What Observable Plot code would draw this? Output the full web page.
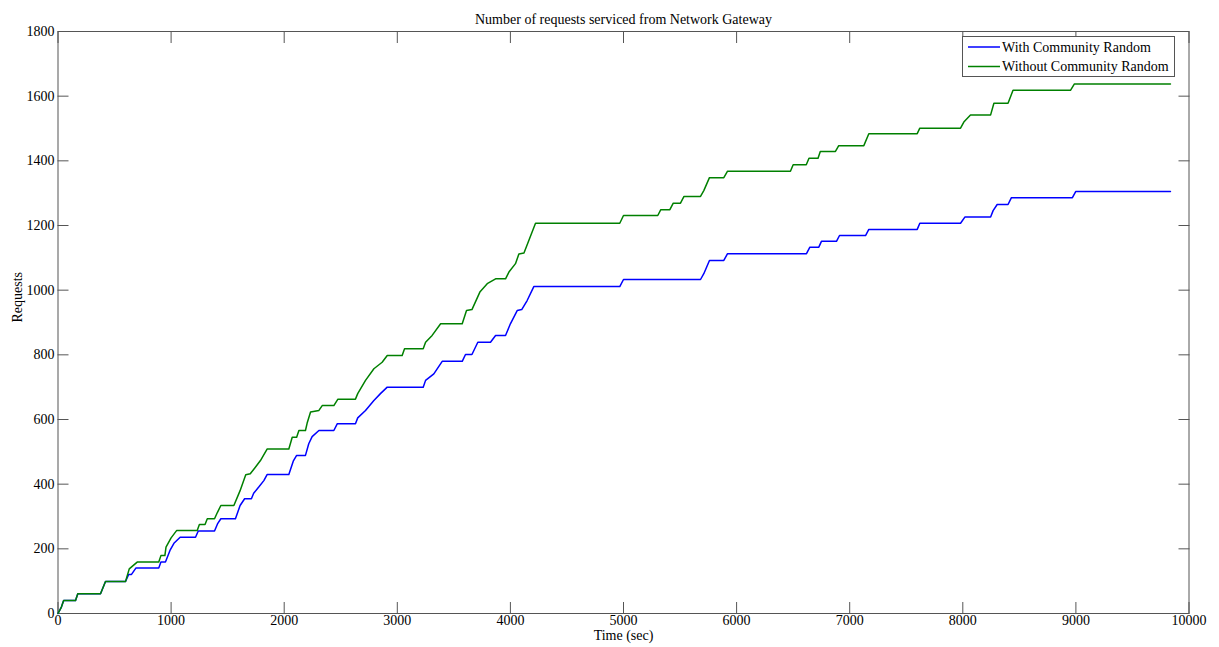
<!DOCTYPE html>
<html><head><meta charset="utf-8">
<script src="https://cdn.jsdelivr.net/npm/d3@7"></script>
<script src="https://cdn.jsdelivr.net/npm/@observablehq/plot@0.6"></script>
<style>body{margin:0;background:#fff}</style>
</head><body><div id="chart"></div>
<script>
const title = "Number of requests serviced from Network Gateway";
const xLabel = "Time (sec)";
const yLabel = "Requests";
const seriesNames = ["With Community Random", "Without Community Random"];
const seriesColors = ["#0000ff", "#008000"];
const xTicks = [0, 1000, 2000, 3000, 4000, 5000, 6000, 7000, 8000, 9000, 10000];
const yTicks = [0, 200, 400, 600, 800, 1000, 1200, 1400, 1600, 1800];

const withTime = [0,30,50,155,175,376,420,597,625,650,690,891,910,950,990,1025,1080,1216,1240,1384,1410,1440,1569,1610,1650,1710,1730,1775,1820,1850,2041,2080,2110,2188,2217,2247,2307,2439,2470,2630,2650,2719,2793,2851,2911,3229,3250,3323,3397,3574,3603,3660,3712,3824,3869,3957,4000,4060,4100,4148,4207,4967,5000,5681,5710,5760,5887,5920,6618,6648,6727,6750,6883,6910,7140,7169,7597,7620,7980,8018,8246,8268,8304,8400,8430,8969,8998,9836];
const withValue = [0,20,40,40,61,61,99,99,121,121,141,141,159,159,195,217,236,236,255,255,277,293,293,334,355,355,372,391,411,430,430,471,489,489,525,547,566,566,587,587,605,628,659,680,700,700,721,741,780,780,801,801,839,839,860,860,896,937,940,968,1011,1011,1033,1033,1051,1092,1092,1113,1113,1133,1133,1151,1151,1169,1169,1188,1188,1207,1207,1226,1226,1246,1265,1265,1286,1286,1305,1305];

const withoutTime = [0,30,50,155,175,376,420,597,630,700,891,910,945,955,1000,1050,1231,1250,1300,1320,1384,1410,1440,1555,1610,1660,1700,1740,1790,1850,2041,2071,2110,2130,2188,2203,2233,2307,2336,2439,2475,2630,2650,2719,2793,2866,2911,3043,3064,3229,3250,3308,3383,3574,3612,3660,3730,3795,3869,3957,3987,4045,4075,4120,4222,4967,5000,5303,5330,5410,5440,5504,5535,5681,5710,5760,5887,5920,6476,6500,6616,6640,6720,6740,6874,6903,7125,7169,7597,7620,7980,8009,8068,8246,8275,8400,8444,8952,8987,9836];
const withoutValue = [0,20,40,40,61,61,99,99,138,159,159,179,179,205,234,257,257,275,275,293,293,313,334,334,380,429,432,450,473,509,509,545,545,566,566,589,623,628,643,643,663,663,680,721,757,777,798,798,819,819,839,860,896,896,937,940,994,1020,1035,1035,1056,1082,1112,1115,1207,1207,1231,1231,1249,1249,1269,1269,1290,1290,1308,1348,1348,1368,1368,1388,1388,1408,1408,1429,1429,1447,1447,1484,1484,1501,1501,1520,1542,1542,1578,1578,1618,1618,1638,1638];

const rowsWith = withTime.map((t, i) => ({t, v: withValue[i], s: seriesNames[0]}));
const rowsWithout = withoutTime.map((t, i) => ({t, v: withoutValue[i], s: seriesNames[1]}));

const frameColor = "#555";
const font = "'Liberation Serif', 'Times New Roman', serif";
const svg = Plot.plot({
  width: 1219,
  height: 647,
  marginLeft: 57.5,
  marginRight: 30.5,
  marginTop: 31,
  marginBottom: 34,
  style: {fontFamily: font, fontSize: "14px", background: "#fff", color: "#000"},
  x: {domain: [0, 10000]},
  y: {domain: [0, 1800]},
  marks: [
    Plot.frame({stroke: frameColor, strokeWidth: 1}),
    Plot.axisX({anchor: "bottom", ticks: xTicks, tickSize: -11, tickPadding: 13, tickFormat: d => String(d), label: null, stroke: frameColor, fill: "#000"}),
    Plot.axisX({anchor: "top", ticks: xTicks, tickSize: -11, tickFormat: () => "", label: null, stroke: frameColor}),
    Plot.axisY({anchor: "left", ticks: yTicks, tickSize: -11, tickPadding: 14.5, tickFormat: d => String(d), label: null, stroke: frameColor, fill: "#000"}),
    Plot.axisY({anchor: "right", ticks: yTicks, tickSize: -11, tickFormat: () => "", label: null, stroke: frameColor}),
    Plot.line(rowsWith, {x: "t", y: "v", stroke: seriesColors[0], strokeWidth: 1.5}),
    Plot.line(rowsWithout, {x: "t", y: "v", stroke: seriesColors[1], strokeWidth: 1.5}),
    Plot.text([title], {frameAnchor: "top", dy: -17, text: d => d, fill: "#000"}),
    Plot.text([xLabel], {frameAnchor: "bottom", dy: 26.5, text: d => d, fill: "#000"}),
    Plot.text([yLabel], {frameAnchor: "left", dx: -40, rotate: -90, text: d => d, fill: "#000"})
  ]
});
document.getElementById("chart").appendChild(svg);

// legend (inside plot, top-right)
const lg = d3.select(svg).append("g")
  .attr("font-family", font).attr("font-size", 14).attr("text-anchor", "start");
lg.append("rect").attr("x", 962.5).attr("y", 36.5).attr("width", 212).attr("height", 40)
  .attr("fill", "#fff").attr("stroke", frameColor).attr("stroke-width", 1);
seriesNames.forEach((name, i) => {
  const y = 47 + i * 19.5;
  lg.append("line").attr("x1", 968).attr("x2", 1000).attr("y1", y).attr("y2", y)
    .attr("stroke", seriesColors[i]).attr("stroke-width", 1.5);
  lg.append("text").attr("x", 1002).attr("y", y).attr("dy", "0.35em")
    .attr("text-anchor", "start").attr("fill", "#000").text(name);
});
</script>
</body></html>
